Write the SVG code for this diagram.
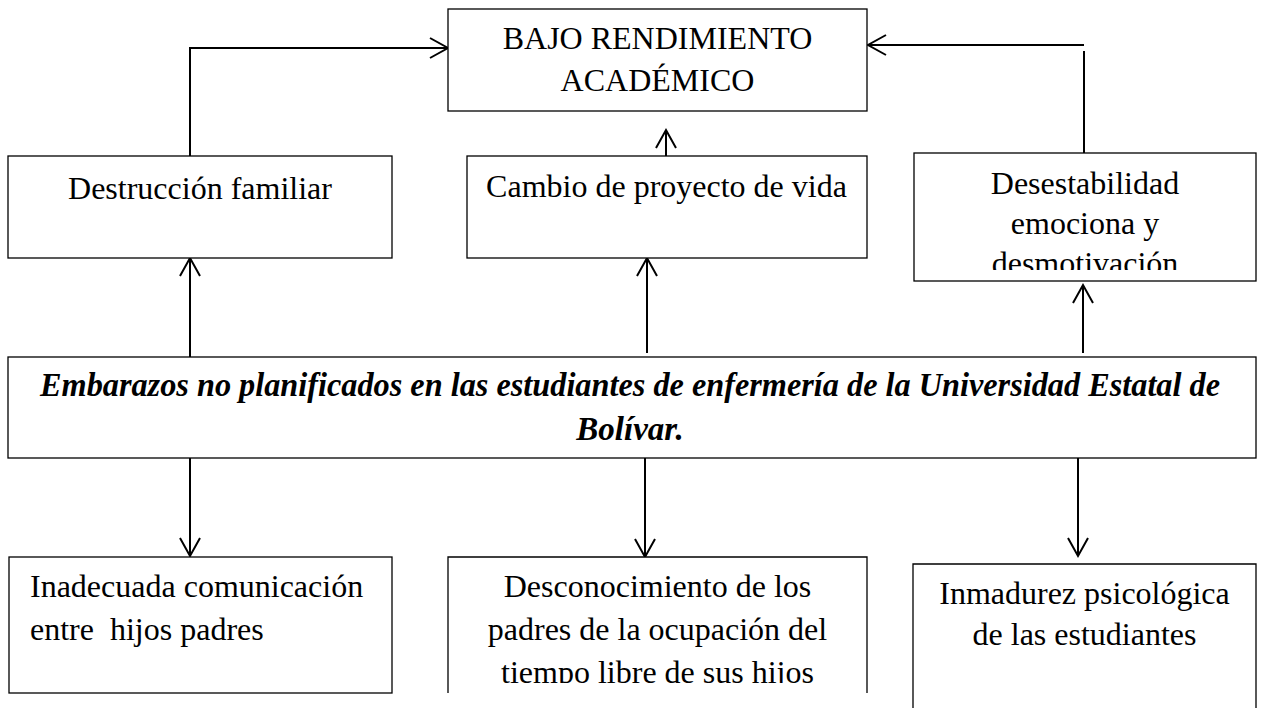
<svg xmlns="http://www.w3.org/2000/svg" width="1262" height="708" viewBox="0 0 1262 708">
<style>
.box{fill:#fff;stroke:#000;stroke-width:1.3}
.t{font-family:"Liberation Serif","Times New Roman",serif;font-size:32px;fill:#000}
.c{text-anchor:middle}
.main{font-family:"Liberation Serif","Times New Roman",serif;font-size:33px;font-weight:bold;font-style:italic;fill:#000;text-anchor:middle}
.conn{fill:none;stroke:#000;stroke-width:2}
</style>
<defs>
<marker id="ah" markerUnits="userSpaceOnUse" markerWidth="20" markerHeight="22" overflow="visible" orient="auto" refX="0" refY="0">
<path d="M-18,-10 L0,0 L-18,10" fill="none" stroke="#000" stroke-width="2"/>
</marker>
<clipPath id="clipR"><rect x="914" y="153" width="342" height="117"/></clipPath>
<clipPath id="clipM"><rect x="448" y="557" width="419" height="126"/></clipPath>
</defs>
<rect width="1262" height="708" fill="#fff"/>
<g id="connectors">
<path class="conn" d="M190,156 V48 H448" marker-end="url(#ah)"/>
<path class="conn" d="M1084,153 V51"/>
<path class="conn" d="M1084,45 H868" marker-end="url(#ah)"/>
<path class="conn" d="M666,156 V130" marker-end="url(#ah)"/>
<path class="conn" d="M190,357 V258" marker-end="url(#ah)"/>
<path class="conn" d="M647,353 V258" marker-end="url(#ah)"/>
<path class="conn" d="M1083,353 V285" marker-end="url(#ah)"/>
<path class="conn" d="M190,458 V556" marker-end="url(#ah)"/>
<path class="conn" d="M645,458 V557" marker-end="url(#ah)"/>
<path class="conn" d="M1078,458 V556" marker-end="url(#ah)"/>
</g>
<g id="bajo-rendimiento">
<rect class="box" x="448" y="9" width="419" height="102"/>
<text class="t c" x="657.5" y="49">BAJO RENDIMIENTO</text>
<text class="t c" x="657.5" y="91">ACADÉMICO</text>
</g>
<g id="destruccion">
<rect class="box" x="8" y="156" width="384" height="102"/>
<text class="t c" x="200" y="199">Destrucción familiar</text>
</g>
<g id="cambio">
<rect class="box" x="467" y="156" width="400" height="102"/>
<text class="t c" x="666.5" y="197">Cambio de proyecto de vida</text>
</g>
<g id="desestabilidad">
<rect class="box" x="914" y="153" width="342" height="128"/>
<g clip-path="url(#clipR)">
<text class="t c" x="1085" y="194">Desestabilidad</text>
<text class="t c" x="1085" y="234">emociona y</text>
<text class="t c" x="1085" y="274">desmotivación</text>
</g>
</g>
<g id="embarazos">
<rect class="box" x="8" y="357" width="1248" height="101"/>
<text class="main" x="630" y="396" textLength="1180" lengthAdjust="spacingAndGlyphs">Embarazos no planificados en las estudiantes de enfermería de la Universidad Estatal de</text>
<text class="main" x="630" y="440">Bolívar.</text>
</g>
<g id="inadecuada">
<rect class="box" x="9" y="557" width="383" height="136"/>
<text class="t" x="30" y="597">Inadecuada comunicación</text>
<text class="t" x="30" y="640" xml:space="preserve">entre  hijos padres</text>
</g>
<g id="desconocimiento">
<path class="box" d="M448,693 V557 H867 V693"/>
<g clip-path="url(#clipM)">
<text class="t c" x="657.5" y="597">Desconocimiento de los</text>
<text class="t c" x="657.5" y="640">padres de la ocupación del</text>
<text class="t c" x="657.5" y="683">tiempo libre de sus hijos</text>
</g>
</g>
<g id="inmadurez">
<path class="box" d="M913,708 V564 H1256 V708"/>
<text class="t c" x="1084.5" y="604">Inmadurez psicológica</text>
<text class="t c" x="1084.5" y="645">de las estudiantes</text>
</g>
</svg>
